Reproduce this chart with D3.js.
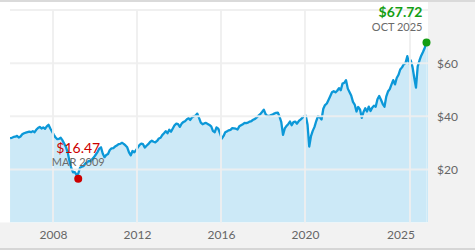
<!DOCTYPE html>
<html><head><meta charset="utf-8">
<script src="https://cdn.jsdelivr.net/npm/d3@7"></script>
<style>html,body{margin:0;padding:0;background:#fff;overflow:hidden}svg{display:block;font-family:Lato,"Open Sans",sans-serif}</style>
</head><body><svg id="c" width="475" height="250"></svg>
<script>
// ---- data ----
const firstMonth = [2005, 12];
const prices = [
  31.8,
  31.9, 32.2, 32.3, 32.6, 32.0, 32.4, 33.2, 33.6, 33.8, 34.0, 34.2, 34.0,
  34.4, 34.0, 34.9, 35.6, 36.0, 35.4, 35.8, 35.3, 36.2, 36.8, 35.4, 34.3,
  33.0, 32.0, 31.4, 31.5, 31.9, 30.9, 29.6, 28.3, 26.2, 23.0, 20.4, 18.9,
  19.0, 17.8, 18.4, 20.6, 21.0, 21.2, 22.2, 22.6, 23.2, 23.0, 23.9, 24.6,
  25.6, 26.6, 27.8, 28.3, 26.0, 24.6, 25.4, 25.8, 27.3, 27.9, 28.0, 28.6,
  29.0, 29.5, 29.6, 30.0, 29.6, 29.0, 28.3, 26.4, 25.3, 26.9, 26.4, 27.2,
  28.3, 29.2, 29.7, 29.5, 28.2, 28.9, 29.5, 30.3, 30.8, 30.4, 30.2, 30.7,
  31.6, 31.9, 32.9, 33.6, 34.4, 33.6, 34.9, 34.2, 35.4, 36.6, 37.2, 37.0,
  36.0, 37.2, 37.8, 38.1, 38.8, 39.3, 38.6, 39.6, 40.0, 40.2, 41.0, 39.4,
  37.6, 37.0, 37.3, 37.5, 37.1, 36.7, 36.2, 34.4, 34.0, 35.8, 35.3, 33.6,
  31.6, 32.6, 34.0, 34.3, 34.7, 34.9, 35.5, 35.4, 35.3, 35.0, 36.2, 36.6,
  37.0, 37.5, 37.4, 37.6, 38.0, 38.2, 38.7, 39.0, 39.6, 40.2, 40.8, 41.6,
  42.5, 40.8, 40.2, 40.1, 40.4, 40.6, 41.0, 41.3, 41.4, 39.9, 37.8, 33.0,
  35.4, 36.4, 37.0, 38.0, 36.6, 37.8, 38.0, 37.2, 38.2, 38.7, 39.4, 40.0,
  40.2, 36.8, 28.6, 32.5, 34.5, 36.0, 38.2, 40.0, 39.6, 38.8, 42.8, 44.2,
  44.8, 46.2, 47.5, 49.0, 49.4, 49.0, 49.6, 50.6, 49.8, 52.3, 52.6, 53.6,
  50.4, 49.0, 47.8, 45.4, 44.4, 41.8, 43.5, 42.6, 39.4, 41.6, 43.0, 41.8,
  43.6, 42.0, 43.2, 44.0, 43.6, 46.4, 47.6, 46.2, 44.6, 43.6, 47.4, 49.3,
  50.2, 52.0, 53.6, 52.0, 54.4, 55.6, 57.6, 58.4, 59.6, 60.0, 62.6, 60.0,
  61.0, 58.4, 54.6, 50.8, 58.8, 61.0, 62.8, 64.2, 65.8, 67.72
];
const xTickYears = [2008, 2012, 2016, 2020, 2025];
const yTickValues = [20, 40, 60, 80];
const yTickLabels = ["$20", "$40", "$60", ""];
const lowMonth = [2009, 3];
const lowValue = 16.47;
const lowLabel = "$16.47";
const lowSub = "MAR 2009";
const highMonth = [2025, 10];
const highValue = 67.72;
const highLabel = "$67.72";
const highSub = "OCT 2025";

// ---- build ----
const midMonth = (y, m) => new Date(y, m - 1, 15);
const series = prices.map((v, i) => {
  const mi = firstMonth[1] - 1 + i;
  return { date: midMonth(firstMonth[0] + Math.floor(mi / 12), (mi % 12) + 1), value: v };
});

const svg = d3.select("#c");
const W = 475, H = 250;
const plotL = 10, plotR = 428, plotT = 10, plotB = 222.5;

const x = d3.scaleTime().domain([new Date(2008, 0, 1), new Date(2025, 0, 1)]).range([53, 410]);
const y = d3.scaleLinear().domain([0, 80]).range([plotB, plotT]);

// backgrounds
svg.append("rect").attr("x", 0).attr("y", 0).attr("width", W).attr("height", H).attr("fill", "#fff");
svg.append("rect").attr("x", plotR).attr("y", 0).attr("width", W - plotR).attr("height", H).attr("fill", "#f2f2f2");
svg.append("rect").attr("x", 0).attr("y", plotB).attr("width", W).attr("height", H - plotB).attr("fill", "#f2f2f2");
svg.append("rect").attr("x", 0).attr("y", 0).attr("width", W).attr("height", 2).attr("fill", "#dadada");
svg.append("rect").attr("x", 0).attr("y", 248).attr("width", W).attr("height", 2).attr("fill", "#d6d6d6");

svg.append("clipPath").attr("id", "clip").append("rect")
  .attr("x", plotL).attr("y", 0).attr("width", plotR - plotL).attr("height", plotB);

const g = svg.append("g").attr("clip-path", "url(#clip)");

// area extended to the plot's right edge at the last value
const last = series[series.length - 1];
g.append("path").datum(series)
  .attr("fill", "#cce9f7")
  .attr("d", d3.area().x(d => x(d.date)).y0(y(0)).y1(d => y(d.value)));
g.append("rect").attr("x", x(last.date)).attr("y", y(last.value))
  .attr("width", plotR - x(last.date)).attr("height", y(0) - y(last.value)).attr("fill", "#cce9f7");

// gridlines
svg.append("g").selectAll("line.h").data(yTickValues).join("line")
  .attr("x1", plotL).attr("x2", plotR)
  .attr("y1", d => y(d)).attr("y2", d => y(d))
  .attr("stroke", "#eeeeee").attr("stroke-opacity", 0.9).attr("stroke-width", 2);
svg.append("g").selectAll("line.v").data(xTickYears).join("line")
  .attr("x1", d => x(new Date(d, 0, 1))).attr("x2", d => x(new Date(d, 0, 1)))
  .attr("y1", plotT).attr("y2", plotB)
  .attr("stroke", "#eeeeee").attr("stroke-opacity", 0.9).attr("stroke-width", 2);

// line
g.append("path").datum(series)
  .attr("fill", "none").attr("stroke", "#0c98d8").attr("stroke-width", 2.3)
  .attr("stroke-linejoin", "round")
  .attr("d", d3.line().x(d => x(d.date)).y(d => y(d.value)));

// x axis labels
const xAxis = d3.axisBottom(x)
  .tickValues(xTickYears.map(yr => new Date(yr, 0, 1)))
  .tickFormat(d3.timeFormat("%Y")).tickSize(0).tickPadding(0);
const xa = svg.append("g").attr("transform", `translate(0,${plotB})`).call(xAxis);
xa.select(".domain").remove();
xa.selectAll("text").attr("fill", "#666").attr("font-size", 12)
  .attr("font-family", "Lato, sans-serif").attr("dy", "0.35em").attr("y", 12);
xa.selectAll(".tick").filter((d, i, n) => i === n.length - 1).select("text").attr("dx", -9.5);

// y axis labels
const yAxis = d3.axisRight(y).tickValues(yTickValues)
  .tickFormat((d, i) => yTickLabels[i]).tickSize(0).tickPadding(0);
const ya = svg.append("g").attr("transform", `translate(437,0)`).call(yAxis);
ya.select(".domain").remove();
ya.selectAll("text").attr("fill", "#666").attr("font-size", 12)
  .attr("font-family", "Lato, sans-serif").attr("x", 0).attr("dy", "0.35em");

// low annotation
const lx = x(midMonth(lowMonth[0], lowMonth[1])), ly = y(lowValue);
svg.append("text").attr("x", lx).attr("y", ly - 26).attr("text-anchor", "middle")
  .attr("fill", "#cc0000").attr("font-size", 14).text(lowLabel);
svg.append("text").attr("x", lx).attr("y", ly - 12.5).attr("text-anchor", "middle")
  .attr("fill", "#6a6a6a").attr("font-size", 11).text(lowSub);
svg.append("circle").attr("cx", lx).attr("cy", ly).attr("r", 4).attr("fill", "#cc0000");

// high annotation
const hx = x(midMonth(highMonth[0], highMonth[1])), hy = y(highValue);
svg.append("text").attr("x", hx - 4).attr("y", hy - 25.5).attr("text-anchor", "end")
  .attr("fill", "#149e14").attr("font-size", 14).attr("font-weight", 700).text(highLabel);
svg.append("text").attr("x", hx - 4).attr("y", hy - 12).attr("text-anchor", "end")
  .attr("fill", "#6a6a6a").attr("font-size", 11).text(highSub);
svg.append("circle").attr("cx", hx).attr("cy", hy).attr("r", 4).attr("fill", "#149e14");
</script></body></html>
